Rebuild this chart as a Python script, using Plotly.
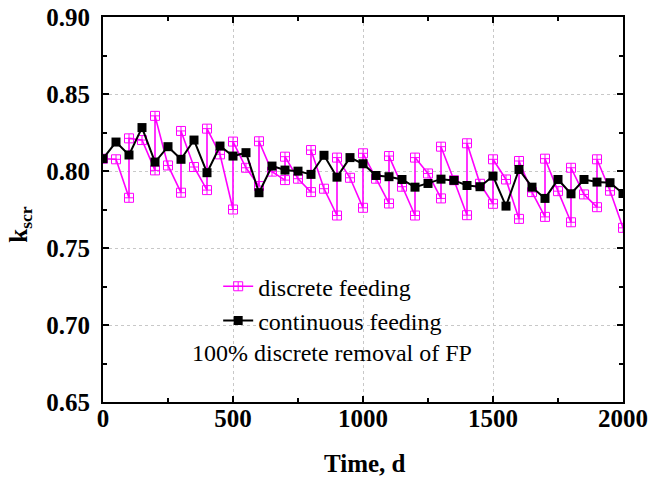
import plotly.graph_objects as go

# continuous feeding (every 50 d)
t_cont = [0, 50, 100, 150, 200, 250, 300, 350, 400, 450, 500, 550, 600, 650, 700,
          750, 800, 850, 900, 950, 1000, 1050, 1100, 1150, 1200, 1250, 1300, 1350,
          1400, 1450, 1500, 1550, 1600, 1650, 1700, 1750, 1800, 1850, 1900, 1950, 2000]
k_cont = [0.808, 0.8188, 0.8104, 0.8282, 0.8058, 0.8158, 0.8076, 0.8201, 0.7989, 0.8162,
          0.8097, 0.8119, 0.7859, 0.8032, 0.8006, 0.7999, 0.7978, 0.8102, 0.7960, 0.8087,
          0.8047, 0.7971, 0.7963, 0.7945, 0.7895, 0.7919, 0.7947, 0.7939, 0.7906, 0.7898,
          0.7967, 0.7772, 0.8010, 0.7895, 0.7822, 0.7945, 0.7852, 0.7945, 0.7928, 0.7924,
          0.7854]

# discrete feeding (value before and after each feed at the same time)
t_disc = [0, 50, 100, 100, 150, 200, 200, 250, 300, 300, 350, 400, 400, 450, 500, 500,
          550, 600, 600, 650, 700, 700, 750, 800, 800, 850, 900, 900, 950, 1000, 1000,
          1050, 1100, 1100, 1150, 1200, 1200, 1250, 1300, 1300, 1350, 1400, 1400, 1450,
          1500, 1500, 1550, 1600, 1600, 1650, 1700, 1700, 1750, 1800, 1800, 1850, 1900,
          1900, 1950, 2000]
k_disc = [0.808, 0.8076, 0.7826, 0.8212, 0.8201, 0.8004, 0.8358, 0.8036, 0.7859, 0.8260,
          0.8026, 0.7876, 0.8275, 0.8108, 0.7750, 0.8191, 0.8021, 0.7902, 0.8193, 0.7996,
          0.7941, 0.8093, 0.7950, 0.7863, 0.8136, 0.7885, 0.7711, 0.8087, 0.7956, 0.7761,
          0.8115, 0.7950, 0.7789, 0.8097, 0.7898, 0.7711, 0.8087, 0.7984, 0.7822, 0.8158,
          0.7940, 0.7713, 0.8180, 0.7917, 0.7787, 0.8076, 0.7945, 0.7689, 0.8065, 0.7863,
          0.7702, 0.8080, 0.7869, 0.7667, 0.8021, 0.7848, 0.7765, 0.8076, 0.7872, 0.7631]

x_ticks = [0, 500, 1000, 1500, 2000]
y_ticks = [0.65, 0.70, 0.75, 0.80, 0.85, 0.90]

FONT = "Liberation Serif"

fig = go.Figure()
fig.add_trace(go.Scatter(
    x=t_disc, y=k_disc, mode="lines+markers", name="discrete feeding",
    line=dict(color="#FF00FF", width=1.6),
    marker=dict(symbol="square-cross-open", size=9, color="#FF00FF",
                line=dict(width=1, color="#FF00FF")),
))
fig.add_trace(go.Scatter(
    x=t_cont, y=k_cont, mode="lines+markers", name="continuous feeding",
    line=dict(color="black", width=2),
    marker=dict(symbol="square", size=9, color="black"),
))

axis_common = dict(
    showline=True, linewidth=2, linecolor="black", mirror="allticks",
    ticks="inside", ticklen=6, tickwidth=1.5, tickcolor="black",
    showgrid=True, gridcolor="#c8c8c8", griddash="dot", gridwidth=1,
    zeroline=False, automargin=False,
    tickfont=dict(family=FONT, size=25, color="black"),
)

fig.update_xaxes(range=[0, 2000],
                 tickvals=x_ticks,
                 ticktext=[f"<b>{v}</b>" for v in x_ticks],
                 minor=dict(dtick=250, ticks="inside", ticklen=4, tickcolor="black",
                            showgrid=False),
                 ticklabelstandoff=-7, **axis_common)
fig.update_yaxes(range=[0.65, 0.90],
                 tickvals=y_ticks,
                 ticktext=[f"<b>{v:.2f}</b>" for v in y_ticks],
                 minor=dict(dtick=0.025, ticks="inside", ticklen=4, tickcolor="black",
                            showgrid=False),
                 ticklabelstandoff=6, **axis_common)

fig.add_annotation(text="<b>Time, d</b>", xref="paper", yref="paper",
                   x=0.504, y=-0.16, xanchor="center", yanchor="middle",
                   showarrow=False, font=dict(family=FONT, size=25, color="black"))
fig.add_annotation(text="<b>k<sub>scr</sub></b>", xref="paper", yref="paper",
                   x=-0.158, y=0.46, xanchor="center", yanchor="middle", textangle=-90,
                   showarrow=False, font=dict(family=FONT, size=25, color="black"))
fig.add_annotation(text="100% discrete removal of FP", xref="paper", yref="paper",
                   x=0.167, y=0.127, xanchor="left", yanchor="middle",
                   showarrow=False, font=dict(family=FONT, size=24, color="black"))

fig.update_layout(
    width=650, height=479,
    margin=dict(l=103, r=27, t=17, b=77, autoexpand=False),
    plot_bgcolor="white", paper_bgcolor="white",
    font=dict(family=FONT, color="black"),
    showlegend=True,
    legend=dict(x=0.2215, y=0.358, xanchor="left", yanchor="top",
                bgcolor="rgba(0,0,0,0)", font=dict(family=FONT, size=24, color="black"),
                tracegroupgap=0, itemwidth=30),
)

fig.write_html("out.html")
